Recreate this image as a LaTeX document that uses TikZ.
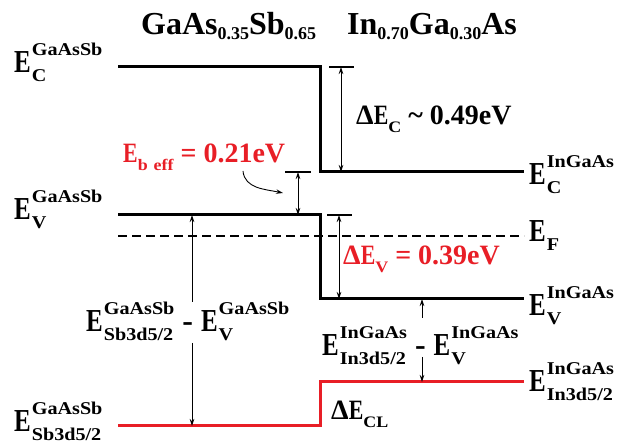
\documentclass[tikz,border=0pt]{standalone}
\usepackage{fontspec}
\setmainfont{Liberation Serif}
\usepackage{graphicx}
\usetikzlibrary{arrows.meta}

\definecolor{bandred}{RGB}{232,30,38}

% narrow capital E and the small scripts beside it
\newcommand{\bigE}{\scalebox{0.78}[1]{E}}
\newcommand{\scr}{\fontsize{18}{18}\selectfont}
\newcommand{\lvl}[2]{\bigE\kern1pt\setbox0\hbox{\scalebox{1.12}[1]{\scr #1}}%
  \setbox2\hbox{\scalebox{1.12}[1]{\scr #2}}%
  \dimen0=\wd0 \ifdim\wd2>\dimen0 \dimen0=\wd2 \fi
  \rlap{\raise17pt\box0}\rlap{\lower9pt\box2}\kern\dimen0\relax}
\newcommand{\tsub}[1]{\raisebox{-5pt}{\fontsize{18}{18}\selectfont #1}}
\newcommand{\nsub}[1]{\raisebox{-8pt}{\scalebox{1.12}[1]{\fontsize{16}{16}\selectfont #1}}}

\tikzset{
  lbl/.style={inner sep=0pt, anchor=base west, font=\fontsize{32}{32}\selectfont\bfseries},
  note/.style={inner sep=0pt, anchor=base west, font=\fontsize{28}{28}\selectfont\bfseries},
  title/.style={inner sep=0pt, anchor=base west, font=\fontsize{32}{32}\selectfont\bfseries},
  band/.style={line width=3pt},
  core/.style={line width=3pt, draw=bandred},
  fermi/.style={line width=2.5pt, dash pattern=on 9pt off 5pt},
  tick/.style={line width=1.3pt},
  gap/.style={line width=0.9pt, {Stealth[length=7pt,width=4.5pt]}-{Stealth[length=7pt,width=4.5pt]}},
  half/.style={line width=0.9pt, -{Stealth[length=7pt,width=4.5pt]}},
}

\begin{document}
\begin{tikzpicture}[x=1pt,y=-1pt]
\useasboundingbox (0,0) rectangle (641,446);

% band edges
\coordinate (cA) at (118,67);
\coordinate (cB) at (320,67);
\coordinate (cC) at (320,172);
\coordinate (cD) at (524,172);
\coordinate (vA) at (118,215);
\coordinate (vB) at (320,215);
\coordinate (vC) at (320,299);
\coordinate (vD) at (524,299);
\coordinate (fA) at (118,236);
\coordinate (fD) at (524,236);
\coordinate (kA) at (118,426);
\coordinate (kB) at (320,426);
\coordinate (kC) at (320,382);
\coordinate (kD) at (524,382);

\draw[band] (cA) -- (cB) -- (cC) -- (cD);
\draw[band] (vA) -- (vB) -- (vC) -- (vD);
\draw[fermi] (fA) -- (fD);
\draw[core] (kA) -- (kB) -- (kC) -- (kD);

% offsets
\coordinate (tC) at (341,67);
\coordinate (tB) at (298,172);
\coordinate (tV) at (339,215);
\draw[tick] (329,67) -- (354,67);
\draw[tick] (285,172) -- (311,172);
\draw[tick] (327,215) -- (352,215);
\draw[gap] (tC) -- (tC |- cC);
\draw[gap] (tB) -- (tB |- vA);
\draw[gap] (tV) -- (tV |- vC);

% core level distances
\coordinate (lTop) at (192,215);
\coordinate (lGapA) at (192,302);
\coordinate (lGapB) at (192,343);
\coordinate (lBot) at (192,426);
\draw[half] (lGapA) -- (lTop);
\draw[half] (lGapB) -- (lBot);
\coordinate (rTop) at (422,299);
\coordinate (rGapA) at (422,318);
\coordinate (rGapB) at (422,357);
\coordinate (rBot) at (422,382);
\draw[half] (rGapA) -- (rTop);
\draw[half] (rGapB) -- (rBot);

% titles
\node[title] (ttlL) at (141,35) {GaAs\tsub{0.35}Sb\tsub{0.65}};
\node[title] (ttlR) at (347,35) {In\tsub{0.70}Ga\tsub{0.30}As};

% level labels
\node[lbl] (ecL) at (14,73) {\lvl{GaAsSb}{C}};
\node[lbl] (evL) at (14,220) {\lvl{GaAsSb}{V}};
\node[lbl] (sbL) at (14,432) {\lvl{GaAsSb}{Sb3d5/2}};
\node[lbl] (ecR) at (529,185) {\lvl{InGaAs}{C}};
\node[lbl] (efR) at (529,242) {\lvl{}{F}};
\node[lbl] (evR) at (529,316) {\lvl{InGaAs}{V}};
\node[lbl] (inR) at (529,392) {\lvl{InGaAs}{In3d5/2}};
\node[lbl] (sbGap) at (86,332) {\lvl{GaAsSb}{Sb3d5/2} - \lvl{GaAsSb}{V}};
\node[lbl] (inGap) at (322,356) {\lvl{InGaAs}{In3d5/2} - \lvl{InGaAs}{V}};

% offsets text
\node[note] (dEc) at (356,125) {Δ\bigE\nsub{C} \textasciitilde{} 0.49eV};
\node[note, text=bandred] (dEv) at (343,265) {Δ\bigE\nsub{V} = 0.39eV};
\node[note, text=bandred] (eBe) at (123,163) {\bigE\nsub{b\,\,eff} = 0.21eV};
\node[note] (dEcl) at (331,420) {Δ\bigE\nsub{CL}};

\coordinate (bS) at (243,171);
\coordinate (bE) at (283,193);
\draw[half] (bS) to[out=-85,in=168] (bE);
\end{tikzpicture}
\end{document}
